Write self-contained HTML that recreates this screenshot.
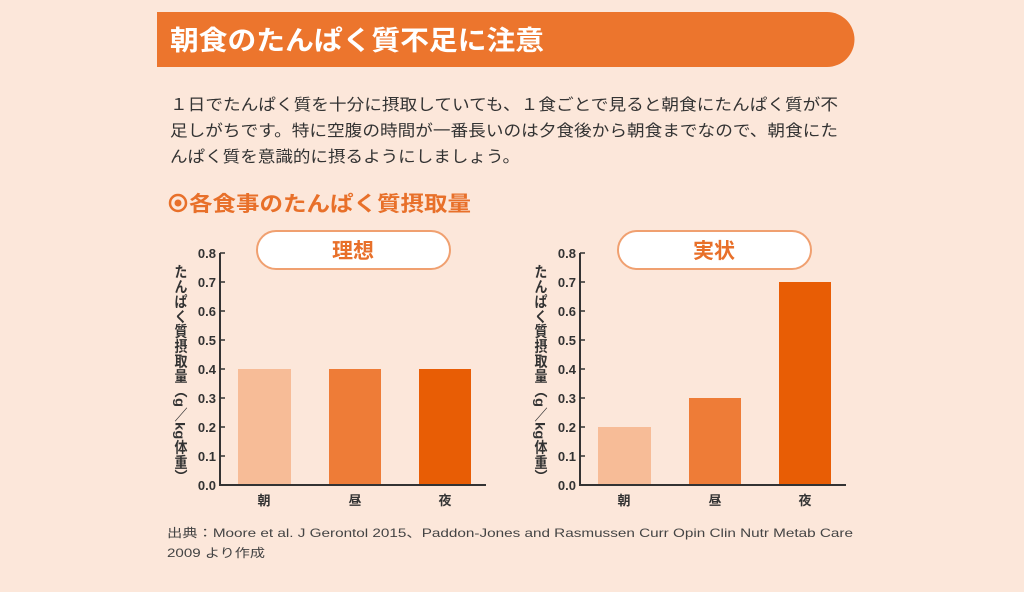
<!DOCTYPE html>
<html><head><meta charset="utf-8"><style>
html,body{margin:0;padding:0;background:#fce7da;}
svg{display:block;}
text{font-family:"Liberation Sans","Noto Sans CJK JP",sans-serif;}
</style></head><body>
<svg width="1024" height="592" viewBox="0 0 1024 592" xmlns="http://www.w3.org/2000/svg">
<rect width="1024" height="592" fill="#fce7da"/>
<path d="M157 12 H827 A27.5 27.5 0 0 1 827 67 H157 Z" fill="#ec752d"/>
<text x="170" y="50" font-size="27" font-weight="bold" fill="#fff" textLength="374" lengthAdjust="spacingAndGlyphs">朝食のたんぱく質不足に注意</text>
<g font-size="16" fill="#333">
<text x="170" y="110" textLength="668" lengthAdjust="spacingAndGlyphs">１日でたんぱく質を十分に摂取していても、１食ごとで見ると朝食にたんぱく質が不</text>
<text x="170" y="136" textLength="668" lengthAdjust="spacingAndGlyphs">足しがちです。特に空腹の時間が一番長いのは夕食後から朝食までなので、朝食にた</text>
<text x="170" y="162" textLength="350" lengthAdjust="spacingAndGlyphs">んぱく質を意識的に摂るようにしましょう。</text>
</g>
<circle cx="178" cy="203" r="8" fill="none" stroke="#e8702a" stroke-width="2.5"/>
<circle cx="178" cy="203" r="3.5" fill="#e8702a"/>
<text x="189" y="211" font-size="21" font-weight="bold" fill="#e8702a" textLength="282" lengthAdjust="spacingAndGlyphs">各食事のたんぱく質摂取量</text>

<!-- left chart -->
<g>
<rect x="257" y="231" width="193" height="38" rx="19" fill="#fff" stroke="#f0a070" stroke-width="2"/>
<text x="353" y="258" font-size="21" font-weight="bold" fill="#e8702a" text-anchor="middle">理想</text>
<g font-size="13" font-weight="bold" fill="#333" text-anchor="end">
<text x="216" y="258">0.8</text><text x="216" y="287">0.7</text><text x="216" y="316">0.6</text><text x="216" y="345">0.5</text><text x="216" y="374">0.4</text><text x="216" y="403">0.3</text><text x="216" y="432">0.2</text><text x="216" y="461">0.1</text><text x="216" y="490">0.0</text>
</g>
<rect x="238" y="369" width="53" height="116" fill="#f7bc97"/>
<rect x="329" y="369" width="52" height="116" fill="#ee7c37"/>
<rect x="419" y="369" width="52" height="116" fill="#e85d05"/>
<path d="M220 253 V485 H486" fill="none" stroke="#333" stroke-width="2"/>
<g stroke="#333" stroke-width="1.5"><path d="M220 253h5M220 282h5M220 311h5M220 340h5M220 369h5M220 398h5M220 427h5M220 456h5"/></g>
<g font-size="13" font-weight="bold" fill="#333" text-anchor="middle">
<text x="264" y="505">朝</text><text x="355" y="505">昼</text><text x="445" y="505">夜</text>
</g>
<text x="180" y="264" writing-mode="tb" font-size="13" font-weight="bold" fill="#333" textLength="220" lengthAdjust="spacingAndGlyphs">たんぱく質摂取量（g／kg体重）</text>
</g>

<!-- right chart -->
<g>
<rect x="618" y="231" width="193" height="38" rx="19" fill="#fff" stroke="#f0a070" stroke-width="2"/>
<text x="714" y="258" font-size="21" font-weight="bold" fill="#e8702a" text-anchor="middle">実状</text>
<g font-size="13" font-weight="bold" fill="#333" text-anchor="end">
<text x="576" y="258">0.8</text><text x="576" y="287">0.7</text><text x="576" y="316">0.6</text><text x="576" y="345">0.5</text><text x="576" y="374">0.4</text><text x="576" y="403">0.3</text><text x="576" y="432">0.2</text><text x="576" y="461">0.1</text><text x="576" y="490">0.0</text>
</g>
<rect x="598" y="427" width="53" height="58" fill="#f7bc97"/>
<rect x="689" y="398" width="52" height="87" fill="#ee7c37"/>
<rect x="779" y="282" width="52" height="203" fill="#e85d05"/>
<path d="M580 253 V485 H846" fill="none" stroke="#333" stroke-width="2"/>
<g stroke="#333" stroke-width="1.5"><path d="M580 253h5M580 282h5M580 311h5M580 340h5M580 369h5M580 398h5M580 427h5M580 456h5"/></g>
<g font-size="13" font-weight="bold" fill="#333" text-anchor="middle">
<text x="624" y="505">朝</text><text x="715" y="505">昼</text><text x="805" y="505">夜</text>
</g>
<text x="540" y="264" writing-mode="tb" font-size="13" font-weight="bold" fill="#333" textLength="220" lengthAdjust="spacingAndGlyphs">たんぱく質摂取量（g／kg体重）</text>
</g>

<g font-size="12" fill="#444">
<text x="167" y="537" textLength="686" lengthAdjust="spacingAndGlyphs">出典：Moore et al. J Gerontol 2015、Paddon-Jones and Rasmussen Curr Opin Clin Nutr Metab Care</text>
<text x="167" y="557" textLength="98" lengthAdjust="spacingAndGlyphs">2009 より作成</text>
</g>
</svg>
</body></html>
